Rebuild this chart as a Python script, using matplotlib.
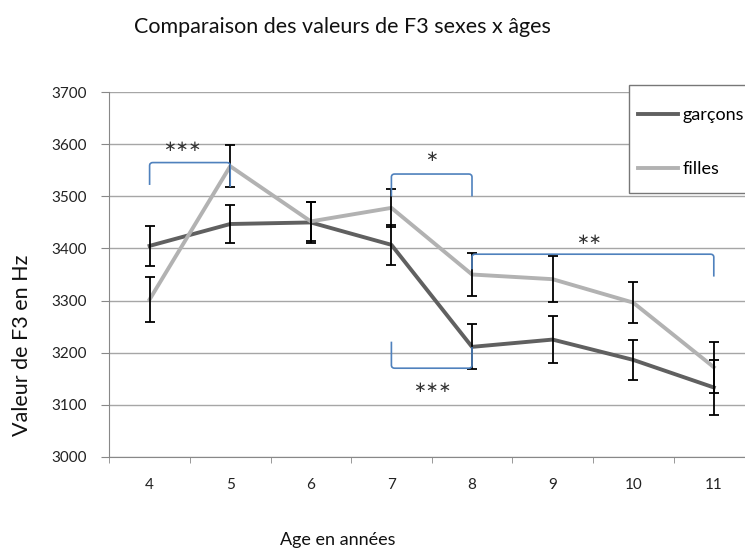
import numpy as np
import matplotlib
matplotlib.use("Agg")
import matplotlib.pyplot as plt
from matplotlib.path import Path
from matplotlib.patches import PathPatch, Rectangle

plt.rcParams['font.family'] = ['Lato', 'DejaVu Sans']

ages = [4, 5, 6, 7, 8, 9, 10, 11]
garcons = [3405, 3447, 3450, 3407, 3211, 3225, 3186, 3133]
garcons_err = [39, 36, 40, 38, 43, 45, 39, 53]
filles = [3302, 3558, 3452, 3478, 3350, 3341, 3296, 3172]
filles_err = [43, 40, 37, 37, 41, 44, 40, 49]

# significance brackets: (x start, x end, level, left end, right end, label, label x, label y)
brackets = [
    (4, 5, 3565, 3522, 3518, '***', 4.4, 3596),
    (7, 8, 3543, 3500, 3500, '*', 7.5, 3576),
    (8, 11, 3389, 3360, 3346, '**', 9.45, 3418),
    (7, 8, 3170, 3221, 3211, '***', 7.5, 3133),
]

W, H = 745, 552
fig = plt.figure(figsize=(W / 100, H / 100), dpi=100)
ax = fig.add_axes([109.3 / W, 1 - 456.7 / H, 644.8 / W, 364.4 / H])

grid_c = '#a6a6a6'
ax.plot(ages, garcons, color='#606060', lw=2.8, zorder=3, label='garçons')
ax.plot(ages, filles, color='#b2b2b2', lw=2.8, zorder=3, label='filles')
ax.errorbar(ages, garcons, yerr=garcons_err, fmt='none', ecolor='black',
            elinewidth=1.3, capsize=3.5, capthick=1.3, zorder=4)
ax.errorbar(ages, filles, yerr=filles_err, fmt='none', ecolor='black',
            elinewidth=1.3, capsize=3.5, capthick=1.3, zorder=4)

# brackets with slightly rounded corners
blue = '#4f81bd'
for x0, x1, lvl, e0, e1, lab, tx, ty in brackets:
    rx = 0.04
    ry = 6 if e0 < lvl else -6
    verts = [(x0, e0), (x0, lvl - ry), (x0, lvl), (x0 + rx, lvl),
             (x1 - rx, lvl), (x1, lvl), (x1, lvl - ry), (x1, e1)]
    codes = [Path.MOVETO, Path.LINETO, Path.CURVE3, Path.CURVE3,
             Path.LINETO, Path.CURVE3, Path.CURVE3, Path.LINETO]
    ax.add_patch(PathPatch(Path(verts, codes), fill=False, edgecolor=blue,
                           lw=1.2, zorder=5))
    ax.text(tx, ty, lab.replace('*', '\u2217'), ha='center', va='center',
            fontsize=11, family='DejaVu Sans', color='#333333', zorder=6)

ax.set_xlim(3.5, 11.5)
ax.set_ylim(3000, 3700)
ax.set_yticks(np.arange(3000, 3701, 100))
ax.set_xticks(ages)
ax.set_xticks(np.arange(3.5, 11.6, 1), minor=True)
ax.grid(axis='y', color=grid_c, lw=1)
ax.set_axisbelow(True)
for s in ['top', 'right']:
    ax.spines[s].set_visible(False)
for s in ['left', 'bottom']:
    ax.spines[s].set_color('#888888')
ax.tick_params(axis='y', which='major', length=6, color='#888888', pad=10,
               labelsize=11, labelcolor='#222222')
ax.tick_params(axis='x', which='major', length=0, pad=15, labelsize=11,
               labelcolor='#222222')
ax.tick_params(axis='x', which='minor', length=4, color='#888888')

fig.text(342 / W, 1 - 27 / H, 'Comparaison des valeurs de F3 sexes x âges',
         ha='center', va='center', fontsize=15.5, color='#111111')
fig.text(338 / W, 1 - 540 / H, 'Age en années', ha='center', va='center',
         fontsize=13, color='#111111')
fig.text(22 / W, 1 - 345 / H, 'Valeur de F3 en Hz', ha='center', va='center',
         rotation=90, fontsize=15.5, color='#111111')

# legend box runs past the right edge, as in the original
fig.patches.append(Rectangle((629 / W, 1 - 193 / H), 140 / W, 108 / H,
                             transform=fig.transFigure, facecolor='white',
                             edgecolor='#777777', lw=1, zorder=8))
leg = fig.legend(loc='upper left', bbox_to_anchor=(638 / W, 1 - 107 / H),
                 bbox_transform=fig.transFigure, borderaxespad=0,
                 fontsize=13, handlelength=2.2, handletextpad=0.25,
                 labelspacing=2.12, borderpad=0, frameon=False)
leg.set_zorder(9)

fig.savefig('out.png', dpi=100)
